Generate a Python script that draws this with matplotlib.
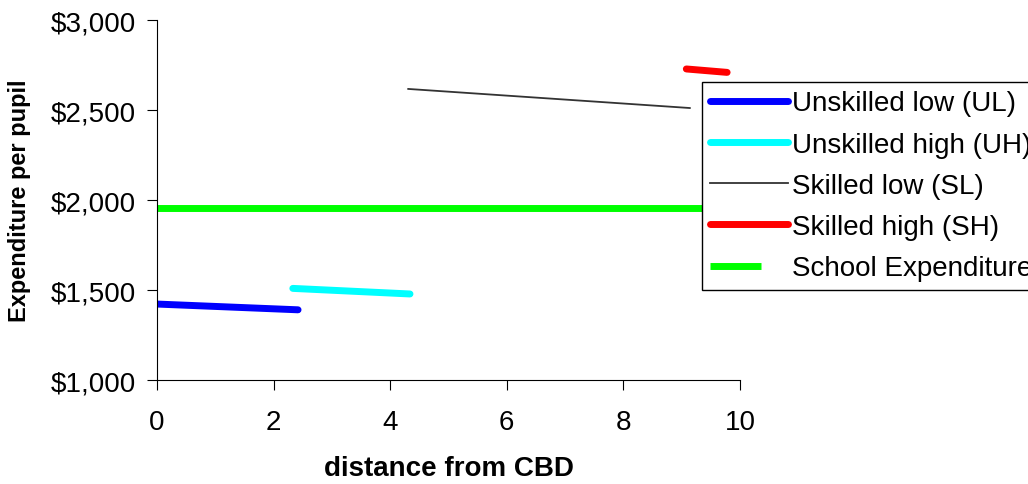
import matplotlib.pyplot as plt
from matplotlib.ticker import FuncFormatter
from matplotlib.legend_handler import HandlerLine2D

plt.rcParams['font.family'] = ['Liberation Sans', 'DejaVu Sans']

# segments (distance from CBD, expenditure per pupil)
ul_x = [0.0, 2.42]
ul_y = [1422, 1390]
uh_x = [2.33, 4.34]
uh_y = [1509, 1478]
sl_x = [4.31, 9.14]
sl_y = [2617, 2511]
sh_x = [9.08, 9.78]
sh_y = [2728, 2709]
school_x = [0, 10]
school_y = [1956, 1956]


class ShortHandle(HandlerLine2D):
    # the school line gets a shorter key in the legend
    def create_artists(self, legend, orig_handle, xdescent, ydescent, width, height, fontsize, trans):
        return super().create_artists(legend, orig_handle, xdescent, ydescent,
                                      width * 0.65, height, fontsize, trans)


fig = plt.figure(figsize=(10.28, 4.85), dpi=100)
ax = fig.add_axes([0.1527, 0.2144, 0.5671, 0.7423])

ax.plot(ul_x, ul_y, color='#0000ff', lw=5, solid_capstyle='round', label='Unskilled low (UL)')
ax.plot(uh_x, uh_y, color='#00ffff', lw=5, solid_capstyle='round', label='Unskilled high (UH)')
ax.plot(sl_x, sl_y, color='#333333', lw=1.3, label='Skilled low (SL)')
ax.plot(sh_x, sh_y, color='#ff0000', lw=5, solid_capstyle='round', label='Skilled high (SH)')
school, = ax.plot(school_x, school_y, color='#00ff00', lw=5, solid_capstyle='butt',
                  label='School Expenditure', zorder=1)

ax.set_xlim(0, 10)
ax.set_ylim(1000, 3000)
ax.set_xticks([0, 2, 4, 6, 8, 10])
ax.set_yticks([1000, 1500, 2000, 2500, 3000])
ax.yaxis.set_major_formatter(FuncFormatter(lambda v, p: f"${v:,.0f}"))
ax.spines['top'].set_visible(False)
ax.spines['right'].set_visible(False)
ax.tick_params(direction='out', length=7, labelsize=20, pad=8)
ax.tick_params(axis='x', pad=14)

ax.set_xlabel('distance from CBD', fontsize=20, fontweight='bold', labelpad=14)
ax.set_ylabel('Expenditure per pupil', fontsize=17, fontweight='bold', labelpad=14)

leg = fig.legend(loc='upper left', bbox_to_anchor=(0.683, 0.829), fontsize=20,
                 frameon=True, fancybox=False, edgecolor='black', framealpha=1,
                 handlelength=2.8, handletextpad=0.12, labelspacing=0.55,
                 borderpad=0.3, borderaxespad=0,
                 handler_map={school: ShortHandle()})
leg.get_frame().set_linewidth(1.0)

fig.savefig('out.png', dpi=100)
